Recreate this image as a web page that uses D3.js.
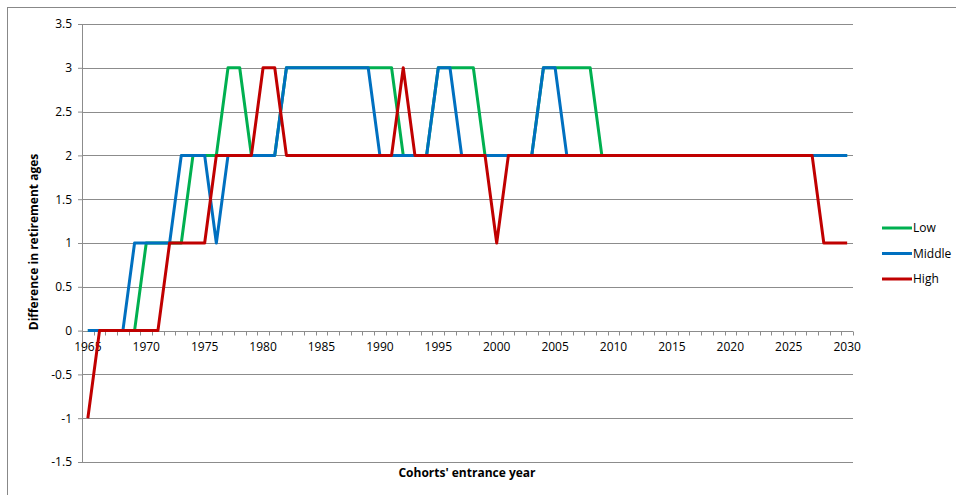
<!DOCTYPE html>
<html>
<head>
<meta charset="utf-8">
<script src="https://cdn.jsdelivr.net/npm/d3@7"></script>
<style>
  body { margin: 0; background: #fff; }
  text { font-family: "Open Sans", "Noto Sans", sans-serif; fill: #000; }
</style>
</head>
<body>
<div id="chart"></div>
<script>
// years 1965..2030, one value per year
var years = d3.range(1965, 2031);
var tickYears = [1965, 1970, 1975, 1980, 1985, 1990, 1995, 2000, 2005, 2010, 2015, 2020, 2025, 2030];
var yTicks = [-1.5, -1, -0.5, 0, 0.5, 1, 1.5, 2, 2.5, 3, 3.5];

var low = [0,0,0,0,0,1,1,1,1,2,2,2,3,3,2,2,2,3,3,3,3,3,3,3,3,3,3,2,2,2,3,3,3,3,2,2,2,2,2,3,3,3,3,3,2,
  2,2,2,2,2,2,2,2,2,2,2,2,2,2,2,2,2,2,2,2,2];
var middle = [0,0,0,0,1,1,1,1,2,2,2,1,2,2,2,2,2,3,3,3,3,3,3,3,3,2,2,2,2,2,3,3,2,2,2,2,2,2,2,3,3,2,
  2,2,2,2,2,2,2,2,2,2,2,2,2,2,2,2,2,2,2,2,2,2,2,2];
var high = [-1,0,0,0,0,0,0,1,1,1,1,2,2,2,2,3,3,2,2,2,2,2,2,2,2,2,2,3,2,2,2,2,2,2,2,1,2,2,2,2,2,2,
  2,2,2,2,2,2,2,2,2,2,2,2,2,2,2,2,2,2,2,2,2,1,1,1];

var series = [
  {name: "Low", values: low, color: "#00b050"},
  {name: "Middle", values: middle, color: "#0070c0"},
  {name: "High", values: high, color: "#c00000"}
];

var W = 956, H = 495;
var margin = {top: 24, right: 103, bottom: 33, left: 82};
var width = W - margin.left - margin.right,
    height = H - margin.top - margin.bottom;
var fs = "12px";

var svg = d3.select("#chart").append("svg").attr("width", W).attr("height", H);

// chart border
svg.append("rect").attr("x", 7.5).attr("y", 7.5).attr("width", 1000).attr("height", 1000)
    .attr("fill", "none").attr("stroke", "#888").attr("stroke-width", 1);

var x = d3.scaleBand().domain(years).range([0, width]);
var y = d3.scaleLinear().domain([-1.5, 3.5]).range([height, 0]);

var g = svg.append("g").attr("transform", "translate(" + margin.left + "," + margin.top + ")");

// gridlines
g.selectAll(".grid").data(yTicks).enter().append("line")
    .attr("x1", 0).attr("x2", width)
    .attr("y1", function(d) { return Math.round(y(d)) + 0.5; })
    .attr("y2", function(d) { return Math.round(y(d)) + 0.5; })
    .attr("stroke", "#8c8c8c").attr("stroke-width", 1);

// y axis
var yAxis = d3.axisLeft(y).tickValues(yTicks).tickSize(4).tickPadding(6)
    .tickFormat(function(d) { return d; });
g.append("g").attr("class", "axis").call(yAxis)
  .call(function(s) {
    s.select(".domain").attr("stroke", "#8c8c8c");
    s.selectAll(".tick line").attr("stroke", "#8c8c8c");
    s.selectAll("text").style("font-size", fs).style("font-family", "Open Sans, sans-serif");
  });

// x axis sits at 0
var xg = g.append("g").attr("transform", "translate(0," + (Math.round(y(0)) + 0.5) + ")");
xg.append("line").attr("x1", 0).attr("x2", width).attr("stroke", "#8c8c8c");
xg.selectAll(".xt").data(d3.range(years.length + 1)).enter().append("line")
    .attr("x1", function(i) { return Math.round(i * x.step()) + 0.5; })
    .attr("x2", function(i) { return Math.round(i * x.step()) + 0.5; })
    .attr("y1", 0).attr("y2", 4).attr("stroke", "#8c8c8c");
xg.selectAll(".xl").data(tickYears).enter().append("text")
    .attr("x", function(d) { return x(d) + x.bandwidth() / 2; })
    .attr("y", 19).attr("text-anchor", "middle").style("font-size", fs)
    .text(function(d) { return d; });

// lines
var line = d3.line()
    .x(function(d, i) { return x(years[i]) + x.bandwidth() / 2; })
    .y(function(d) { return y(d); });

series.forEach(function(s) {
  g.append("path").datum(s.values)
      .attr("fill", "none").attr("stroke", s.color).attr("stroke-width", 3)
      .attr("stroke-linejoin", "round")
      .attr("d", line);
});

// axis titles
svg.append("text").attr("x", 467).attr("y", 477).attr("text-anchor", "middle")
    .style("font-size", fs).style("font-weight", "bold").text("Cohorts' entrance year");
svg.append("text").attr("transform", "translate(38,242) rotate(-90)").attr("text-anchor", "middle")
    .style("font-size", fs).style("font-weight", "bold").text("Difference in retirement ages");

// legend
var leg = svg.append("g").attr("transform", "translate(882,228)");
series.forEach(function(s, i) {
  var r = leg.append("g").attr("transform", "translate(0," + (i * 25.5) + ")");
  r.append("line").attr("x1", 0).attr("x2", 30).attr("stroke", s.color).attr("stroke-width", 3);
  r.append("text").attr("x", 31).attr("y", 4).style("font-size", fs).text(s.name);
});
</script>
</body>
</html>
